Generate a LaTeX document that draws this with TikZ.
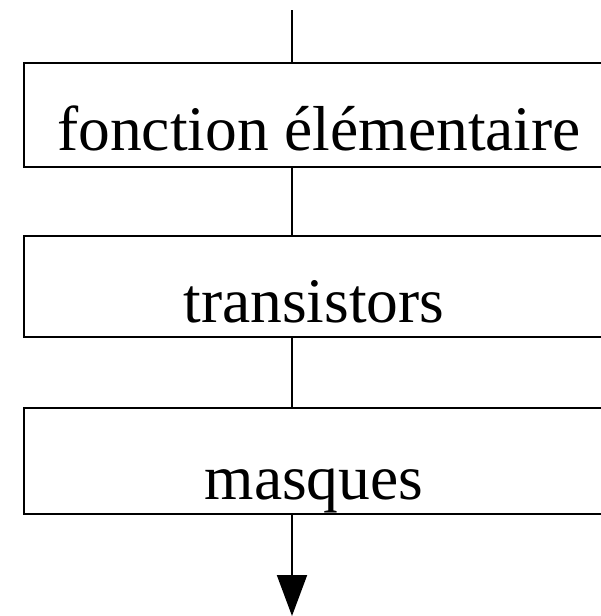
\documentclass[tikz,border=0pt]{standalone}
\usepackage{fontspec}
\setmainfont{Liberation Serif}
\usetikzlibrary{arrows.meta}
\begin{document}
\begin{tikzpicture}[x=1pt,y=-1pt,
  box/.style={draw,line width=2pt,minimum width=581pt,inner sep=0pt,outer sep=0pt},
  lbl/.style={anchor=base,inner sep=0pt,font=\fontsize{63.5}{63.5}\selectfont},
  conn/.style={line width=2pt}]
\useasboundingbox (0,0) rectangle (601,616);
\clip (0,0) rectangle (601,616);
\coordinate (top) at (292,10);
\coordinate (end) at (292,616);
\node[box,minimum height=104pt] (b1) at (314.5,115) {};
\node[box,minimum height=101pt] (b2) at (314.5,286.5) {};
\node[box,minimum height=106pt] (b3) at (314.5,461) {};
\node[lbl] (t1) at (319,150) {fonction élémentaire};
\node[lbl] (t2) at (314,322) {transistors};
\node[lbl] (t3) at (314,499) {masques};
\draw[conn] (top) -- (top |- b1.north);
\draw[conn] (top |- b1.south) -- (top |- b2.north);
\draw[conn] (top |- b2.south) -- (top |- b3.north);
\draw[conn,-{Triangle[length=41pt,width=30pt]}] (top |- b3.south) -- (end);
\end{tikzpicture}
\end{document}
